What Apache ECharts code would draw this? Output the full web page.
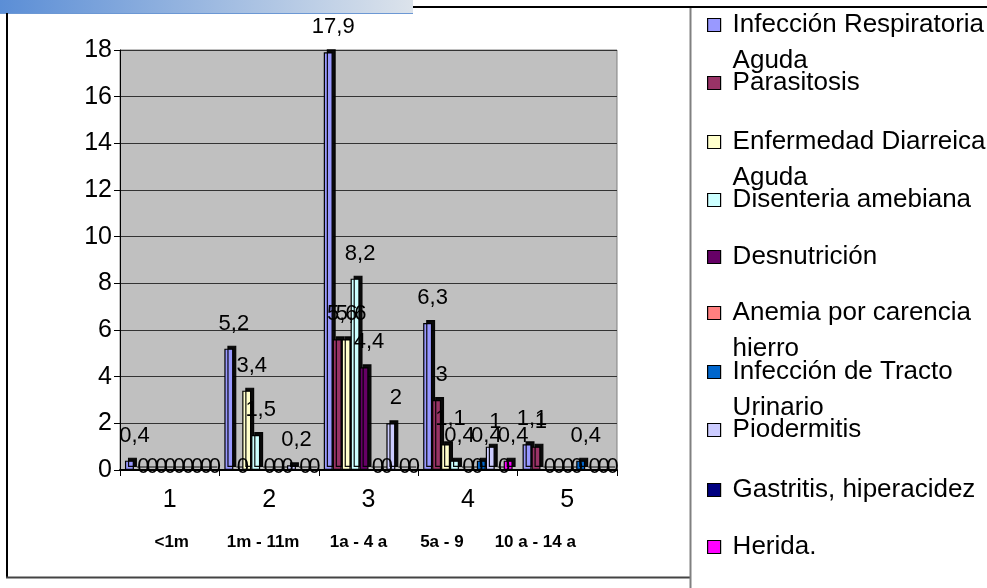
<!DOCTYPE html>
<html>
<head>
<meta charset="utf-8">
<script src="https://cdn.jsdelivr.net/npm/echarts@6/dist/echarts.min.js"></script>
<style>
  html, body { margin: 0; padding: 0; background: #ffffff; }
  #chart { width: 987px; height: 588px; }
</style>
</head>
<body>
<div id="chart"></div>
<script>
// Category axis (age group index) and the age-group captions under it
const categories = ['1', '2', '3', '4', '5'];
const ageGroups = ['<1m', '1m - 11m', '1a - 4 a', '5a - 9', '10 a - 14 a'];

// Disease names (as shown in the legend, wrapped)
const diseaseNames = [
  'Infección Respiratoria\nAguda',
  'Parasitosis',
  'Enfermedad Diarreica\nAguda',
  'Disenteria amebiana',
  'Desnutrición',
  'Anemia por carencia\nhierro',
  'Infección de Tracto\nUrinario',
  'Piodermitis',
  'Gastritis, hiperacidez',
  'Herida.'
];

// Values per age group for each disease
const infeccionRespiratoria = [0.4, 5.2, 17.9, 6.3, 1.1];
const parasitosis          = [0, 0, 5.6, 3, 1];
const diarreica            = [0, 3.4, 5.6, 1.1, 0];
const disenteria           = [0, 1.5, 8.2, 0.4, 0];
const desnutricion         = [0, 0, 4.4, 0, 0];
const anemia               = [0, 0, 0, 0, 0];
const tractoUrinario       = [0, 0, 0, 0.4, 0.4];
const piodermitis          = [0, 0.2, 2, 1, 0];
const gastritis            = [0, 0, 0, 0, 0];
const herida               = [0, 0, 0, 0.4, 0];

// Y axis ticks
const yMin = 0, yMax = 18, yStep = 2;

const seriesValues = [
  infeccionRespiratoria, parasitosis, diarreica, disenteria, desnutricion,
  anemia, tractoUrinario, piodermitis, gastritis, herida
];
const palette = ['#9999FF', '#993366', '#FFFFCC', '#CCFFFF', '#660066',
                 '#FF8080', '#0066CC', '#CCCCFF', '#000080', '#FF00FF'];

const FONT = '"Liberation Sans", Arial, sans-serif';
const fmt = v => String(v).replace('.', ',');

const series = seriesValues.map((vals, i) => ({
  name: diseaseNames[i],
  type: 'bar',
  barGap: '0%',
  barCategoryGap: '10%',
  itemStyle: {
    color: palette[i],
    borderColor: '#000',
    borderWidth: 1.2,
    shadowColor: 'rgba(0,0,0,0.95)',
    shadowBlur: 0,
    shadowOffsetX: 3,
    shadowOffsetY: -3
  },
  label: {
    show: true,
    position: 'top',
    distance: 14,
    offset: [5, 0],
    color: '#000',
    fontFamily: FONT,
    fontSize: 22,
    formatter: p => fmt(p.value)
  },
  data: vals.map(v => v === 0
    ? { value: v, label: { position: 'inside', offset: [5, -3] } }
    : v)
}));

// Legend entries: one block per disease, stacked at a fixed pitch
const legendCenters = [25, 83, 142, 200, 257, 313, 372, 430, 490, 547];
const LH = 36;
const legends = diseaseNames.map((name, i) => {
  const twoLines = name.indexOf('\n') >= 0;
  return {
    data: [name],
    orient: 'vertical',
    left: 707,
    top: legendCenters[i] - (twoLines ? 1.5 * LH : LH / 2),
    padding: 0,
    itemWidth: 13,
    itemHeight: 13,
    icon: 'rect',
    selectedMode: false,
    itemStyle: { borderColor: '#000', borderWidth: 1.2, shadowColor: 'transparent', shadowOffsetX: 0, shadowOffsetY: 0 },
    textStyle: {
      color: '#000',
      fontFamily: FONT,
      fontSize: 26,
      lineHeight: LH,
      padding: [0, 0, 0, 7]
    },
    formatter: n => (n.indexOf('\n') >= 0 ? '\n' + n : n)
  };
});

// Horizontal nudges for the age-group captions
const captionShift = [2, -6, -10, -26, -32];

const option = {
  backgroundColor: '#ffffff',
  animation: false,
  grid: {
    left: 120, right: 370, top: 50, bottom: 118,
    show: true,
    backgroundColor: '#C0C0C0',
    borderColor: '#808080',
    borderWidth: 1
  },
  legend: legends,
  xAxis: [
    {
      type: 'category',
      data: categories,
      position: 'bottom',
      axisLine: { show: true, lineStyle: { color: '#000', width: 2 } },
      axisTick: { show: true, length: 6, interval: 0, lineStyle: { color: '#000' } },
      axisLabel: { color: '#000', fontFamily: FONT, fontSize: 25, margin: 18 },
      splitLine: { show: false }
    },
    {
      type: 'category',
      data: ageGroups.map((g, i) => ({
        value: g,
        textStyle: {
          padding: captionShift[i] >= 0
            ? [0, 0, 0, 2 * captionShift[i]]
            : [0, -2 * captionShift[i], 0, 0]
        }
      })),
      position: 'bottom',
      offset: 0,
      axisLine: { show: false },
      axisTick: { show: false },
      axisLabel: { interval: 0, color: '#000', fontFamily: FONT, fontSize: 17, fontWeight: 'bold', margin: 64 },
      splitLine: { show: false }
    }
  ],
  yAxis: {
    type: 'value',
    min: yMin, max: yMax, interval: yStep,
    axisLine: { show: true, lineStyle: { color: '#000', width: 1 } },
    axisTick: { show: true, length: 6, lineStyle: { color: '#000' } },
    axisLabel: { color: '#000', fontFamily: FONT, fontSize: 25, margin: 8 },
    splitLine: { show: true, lineStyle: { color: '#333', width: 1 } }
  },
  series: series,
  graphic: [
    {
      type: 'rect',
      shape: { x: 0, y: 0, width: 413, height: 13 },
      style: {
        fill: new echarts.graphic.LinearGradient(0, 0, 1, 0, [
          { offset: 0, color: '#5B8ED6' },
          { offset: 1, color: '#DCE3EB' }
        ])
      },
      silent: true
    },
    { type: 'line', shape: { x1: 0, y1: 13.5, x2: 413, y2: 13.5 }, style: { stroke: '#6C98D4', lineWidth: 1 }, silent: true },
    { type: 'line', shape: { x1: 413, y1: 7, x2: 987, y2: 7 }, style: { stroke: '#000', lineWidth: 2 }, silent: true },
    { type: 'line', shape: { x1: 7, y1: 13, x2: 7, y2: 578 }, style: { stroke: '#000', lineWidth: 2 }, silent: true },
    { type: 'line', shape: { x1: 6, y1: 577.5, x2: 691, y2: 577.5 }, style: { stroke: '#444', lineWidth: 2 }, silent: true },
    { type: 'line', shape: { x1: 690.5, y1: 8, x2: 690.5, y2: 588 }, style: { stroke: '#808080', lineWidth: 2 }, silent: true }
  ]
};

const chart = echarts.init(document.getElementById('chart'), null, { renderer: 'canvas' });
chart.setOption(option);
</script>
</body>
</html>
